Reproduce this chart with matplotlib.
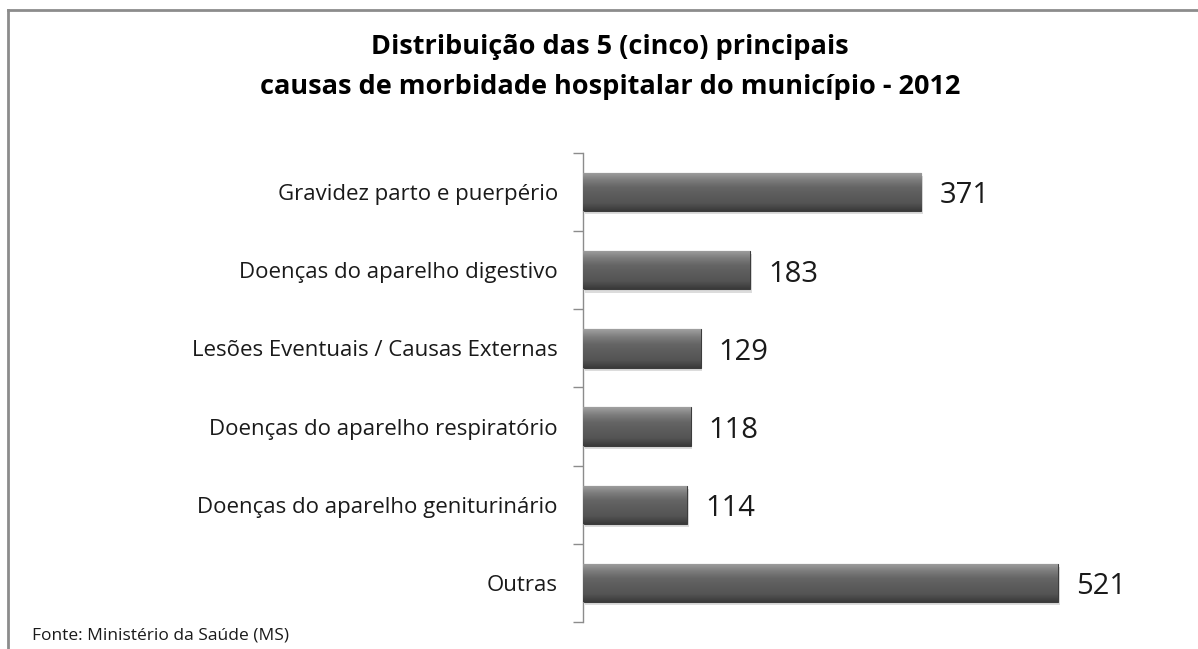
import numpy as np
import matplotlib.pyplot as plt
from matplotlib.colors import LinearSegmentedColormap
from matplotlib.lines import Line2D

categories = ["Gravidez parto e puerpério",
              "Doenças do aparelho digestivo",
              "Lesões Eventuais / Causas Externas",
              "Doenças do aparelho respiratório",
              "Doenças do aparelho geniturinário",
              "Outras"]
values = [371, 183, 129, 118, 114, 521]

title = "Distribuição das 5 (cinco) principais\ncausas de morbidade hospitalar do município - 2012"
source = "Fonte: Ministério da Saúde (MS)"

plt.rcParams['font.family'] = ['Open Sans', 'DejaVu Sans']

fig = plt.figure(figsize=(11.98, 6.49), dpi=100)
ax = fig.add_axes([0.4866, 0.0416, 0.4566, 0.7227])

y = np.arange(len(categories))
bars = ax.barh(y, values, height=0.49, color='#5a5a5a', zorder=2)
ax.set_ylim(len(categories) - 0.5, -0.5)
ax.set_xlim(0, 600)

# beveled gray look: vertical gradient clipped to each bar
cmap = LinearSegmentedColormap.from_list(
    'bevel', ['#a0a0a0', '#7c7c7c', '#646464', '#5c5c5c', '#545454', '#3a3a3a'])
grad = np.linspace(0, 1, 64).reshape(-1, 1)
for b in bars:
    x0, y0 = b.get_x(), b.get_y()
    w, h = b.get_width(), b.get_height()
    # soft shadow
    ax.add_patch(plt.Rectangle((x0 + 2, y0 + 0.04), w, h, color='#bbbbbb',
                               alpha=0.5, zorder=1, lw=0))
    im = ax.imshow(grad, cmap=cmap, aspect='auto', zorder=3,
                   extent=(x0, x0 + w, y0 + h, y0))
    im.set_clip_path(b)
    b.set_edgecolor('#3c3c3c')
    b.set_linewidth(0.8)
    ax.text(x0 + w + 20, y0 + h / 2 + 0.05, f"{int(w)}", va='center', ha='left',
            fontsize=21, color='#1a1a1a', zorder=4)

ax.set_yticks(y)
ax.set_yticklabels(categories, fontsize=16, color='#1a1a1a')
ax.set_yticks(np.arange(len(categories) + 1) - 0.5, minor=True)
ax.tick_params(axis='y', which='major', length=0, pad=18)
ax.tick_params(axis='y', which='minor', length=7, color='#8c8c8c', width=1)
ax.set_xticks([])
for s in ['top', 'right', 'bottom']:
    ax.spines[s].set_visible(False)
ax.spines['left'].set_color('#8c8c8c')
ax.spines['left'].set_linewidth(1)

fig.text(0.509, 0.896, title, ha='center', va='center', fontsize=19.5,
         fontweight='bold', linespacing=1.7, color='#000000')
fig.text(0.027, 0.021, source, ha='left', va='center', fontsize=12.5,
         color='#1a1a1a')

# outer chart frame (top and left edges)
fig.add_artist(Line2D([0.0068, 0.0068], [0.0, 0.984], transform=fig.transFigure,
                      color='#8c8c8c', lw=2))
fig.add_artist(Line2D([0.0068, 1.0], [0.984, 0.984], transform=fig.transFigure,
                      color='#8c8c8c', lw=2))

fig.savefig('out.png', dpi=100)
